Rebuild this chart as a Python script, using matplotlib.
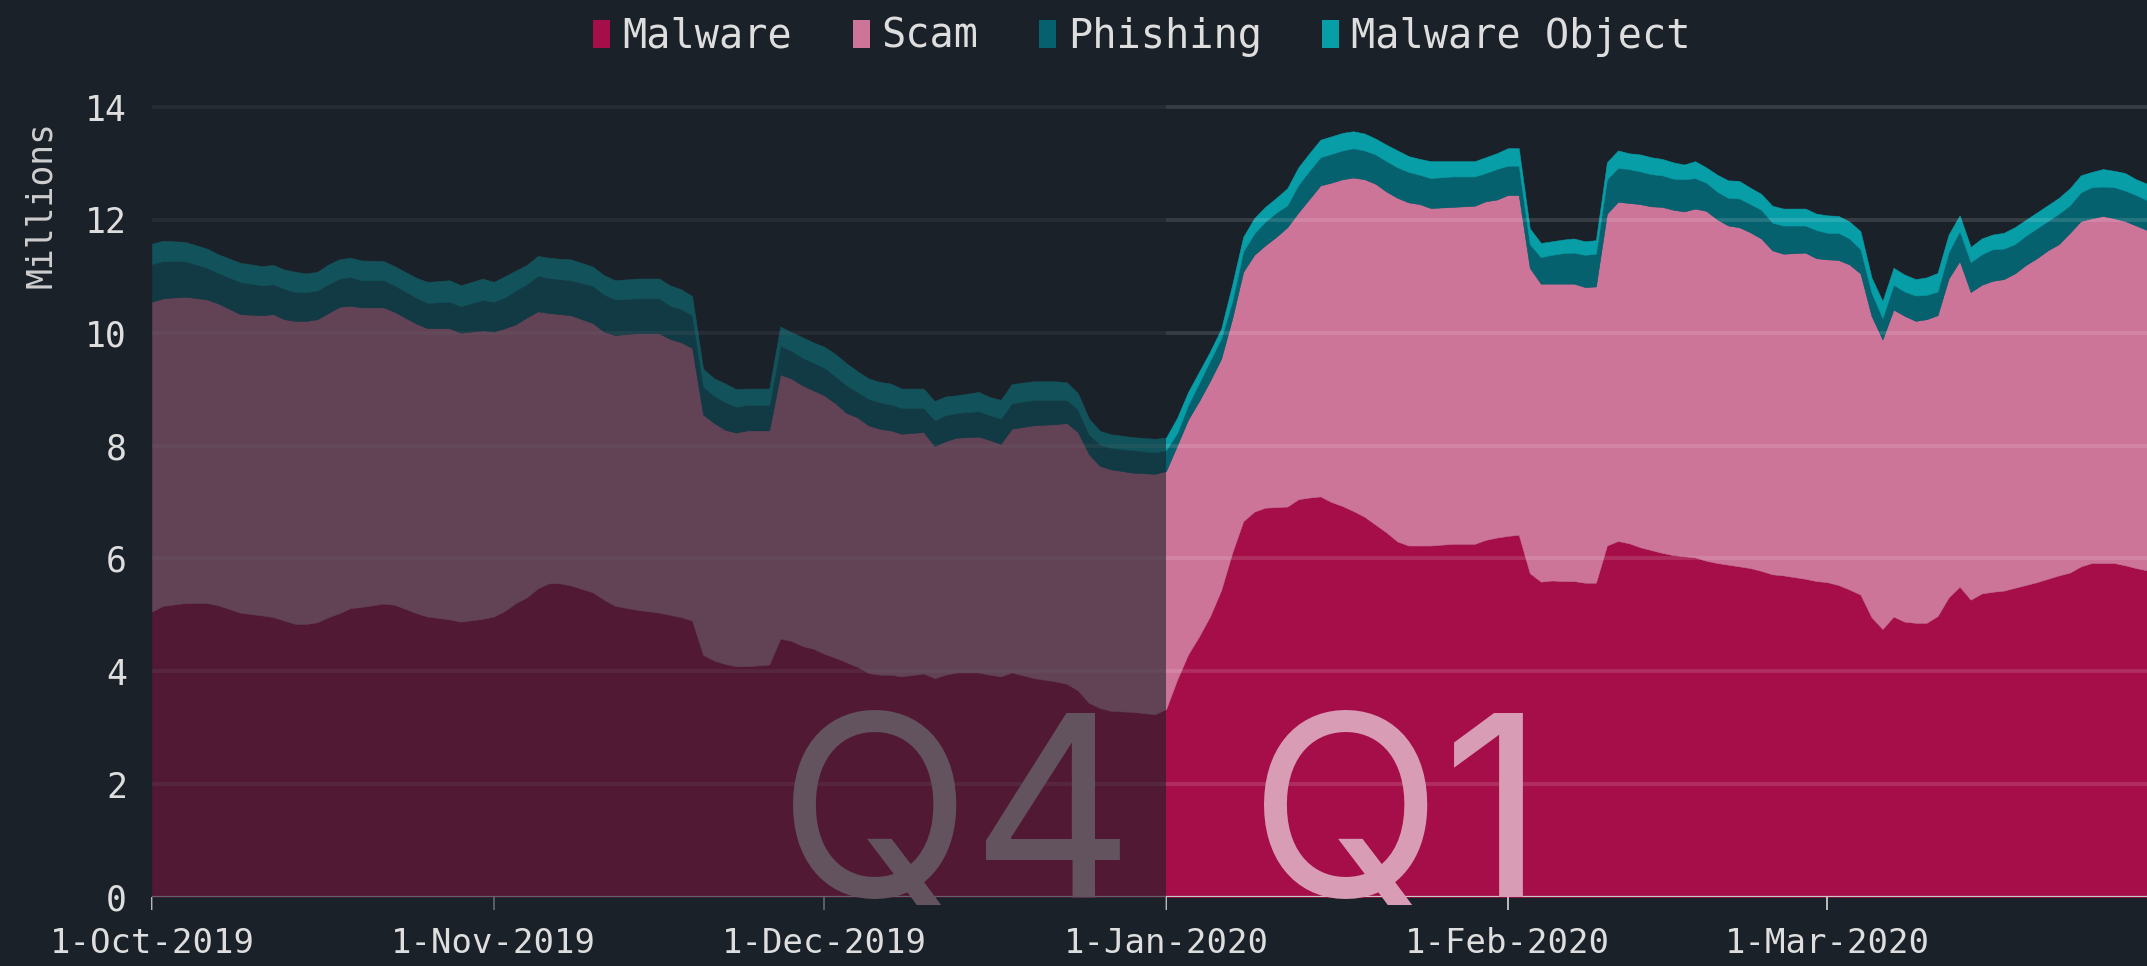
"""
Stacked daily detections (Q4 2019 vs Q1 2020) in the dark dashboard style:
Q4 is dimmed with a translucent overlay, big quarter labels sit on the baseline.
"""
import pandas as pd
import matplotlib
matplotlib.use("Agg")
import matplotlib.pyplot as plt
import matplotlib.dates as mdates
from matplotlib.patches import Rectangle, Patch
from matplotlib.transforms import Bbox, TransformedBbox

BG = "#1b2129"
TXT = "#dedede"
FONT = "DejaVu Sans Mono"
Q_FONT = ["Inter", "DejaVu Sans"]

START = pd.Timestamp("2019-10-01")
Q1_START = pd.Timestamp("2020-01-01")
END = pd.Timestamp("2020-03-30")

# days since 1-Oct-2019, values in millions (per layer, not cumulative)
day = [0, 1, 3, 5, 6, 8, 10, 11, 12, 13, 14, 15, 16, 17, 18, 19, 21, 22, 24, 25,
       27, 28, 30, 31, 32, 33, 34, 35, 36, 37, 38, 40, 41, 42, 44, 46, 47, 48, 49, 50,
       51, 52, 53, 54, 56, 57, 58, 59, 60, 61, 62, 63, 64, 65, 66, 67, 68, 70, 71, 72,
       73, 75, 76, 77, 78, 80, 82, 83, 84, 85, 86, 87, 89, 91, 92,
       93, 94, 95, 96, 97, 98, 99, 100, 101, 102, 103, 104, 105, 106, 107, 108, 109, 110,
       111, 112, 113, 114, 115, 116, 118, 120, 121, 122, 123, 124, 125, 126, 127, 128,
       129, 130, 131, 132, 133, 134, 135, 136, 137, 138, 139, 140, 141, 142, 143, 144,
       145, 146, 147, 148, 150, 151, 152, 153, 154, 155, 156, 157, 158, 159, 160, 161,
       162, 163, 164, 165, 166, 167, 168, 169, 170, 171, 172, 173, 174, 175, 176, 177,
       178, 179, 180, 181]

malware = [5.06, 5.16, 5.21, 5.21, 5.17, 5.04, 4.99, 4.96, 4.90, 4.84, 4.84, 4.87, 4.96, 5.03, 5.12, 5.14, 5.20, 5.18, 5.03, 4.97,
           4.92, 4.88, 4.93, 4.97, 5.07, 5.21, 5.31, 5.47, 5.56, 5.56, 5.52, 5.40, 5.27, 5.16, 5.09, 5.04, 5.00, 4.96, 4.90, 4.29,
           4.19, 4.13, 4.09, 4.09, 4.12, 4.58, 4.54, 4.45, 4.40, 4.31, 4.24, 4.16, 4.08, 3.97, 3.94, 3.94, 3.91, 3.96, 3.88, 3.94,
           3.98, 3.98, 3.94, 3.91, 3.98, 3.88, 3.82, 3.78, 3.66, 3.44, 3.35, 3.30, 3.28, 3.24, 3.33,
           3.85, 4.30, 4.62, 4.98, 5.44, 6.10, 6.66, 6.83, 6.90, 6.91, 6.92, 7.05, 7.08, 7.10, 7.00, 6.93, 6.84, 6.74,
           6.60, 6.46, 6.30, 6.23, 6.23, 6.23, 6.26, 6.26, 6.33, 6.37, 6.40, 6.42, 5.74, 5.59, 5.61, 5.60,
           5.60, 5.57, 5.57, 6.23, 6.31, 6.27, 6.20, 6.15, 6.10, 6.06, 6.04, 6.02, 5.96, 5.92, 5.89, 5.86,
           5.83, 5.78, 5.72, 5.70, 5.64, 5.60, 5.58, 5.53, 5.45, 5.36, 4.96, 4.75, 4.97, 4.88, 4.86, 4.86,
           4.98, 5.31, 5.50, 5.27, 5.38, 5.41, 5.43, 5.48, 5.53, 5.58, 5.64, 5.70, 5.75, 5.86, 5.92, 5.92,
           5.92, 5.88, 5.83, 5.79]

scam = [5.49, 5.45, 5.43, 5.38, 5.35, 5.29, 5.32, 5.37, 5.34, 5.37, 5.37, 5.37, 5.39, 5.43, 5.36, 5.31, 5.25, 5.19, 5.13, 5.11,
        5.16, 5.12, 5.11, 5.05, 5.01, 4.94, 4.96, 4.91, 4.79, 4.77, 4.79, 4.77, 4.75, 4.80, 4.90, 4.95, 4.89, 4.87, 4.83, 4.26,
        4.21, 4.15, 4.14, 4.18, 4.15, 4.68, 4.65, 4.62, 4.58, 4.58, 4.51, 4.42, 4.42, 4.39, 4.36, 4.33, 4.30, 4.28, 4.11, 4.14,
        4.16, 4.18, 4.16, 4.12, 4.32, 4.48, 4.56, 4.62, 4.58, 4.41, 4.29, 4.28, 4.24, 4.26, 4.22,
        4.15, 4.16, 4.17, 4.17, 4.10, 4.15, 4.42, 4.55, 4.65, 4.79, 4.95, 5.08, 5.29, 5.51, 5.66, 5.79, 5.91, 5.98,
        6.04, 6.04, 6.09, 6.08, 6.05, 5.98, 5.97, 5.99, 6.00, 5.99, 6.04, 6.02, 5.41, 5.28, 5.26, 5.27,
        5.27, 5.24, 5.25, 5.88, 6.01, 6.03, 6.08, 6.09, 6.13, 6.12, 6.11, 6.18, 6.20, 6.09, 6.01, 6.01,
        5.95, 5.89, 5.74, 5.70, 5.78, 5.72, 5.72, 5.76, 5.76, 5.69, 5.34, 5.13, 5.44, 5.42, 5.35, 5.38,
        5.33, 5.65, 5.77, 5.45, 5.47, 5.51, 5.52, 5.57, 5.67, 5.74, 5.82, 5.87, 6.02, 6.12, 6.11, 6.15,
        6.11, 6.10, 6.07, 6.03]

phishing = [0.67, 0.66, 0.63, 0.56, 0.54, 0.57, 0.53, 0.53, 0.54, 0.51, 0.51, 0.51, 0.51, 0.50, 0.51, 0.48, 0.48, 0.47, 0.46, 0.45,
            0.47, 0.47, 0.54, 0.53, 0.55, 0.60, 0.59, 0.63, 0.62, 0.62, 0.62, 0.66, 0.66, 0.63, 0.62, 0.62, 0.59, 0.59, 0.58, 0.50,
            0.48, 0.49, 0.46, 0.45, 0.45, 0.51, 0.49, 0.49, 0.49, 0.49, 0.48, 0.49, 0.45, 0.47, 0.47, 0.46, 0.46, 0.43, 0.46, 0.46,
            0.44, 0.45, 0.44, 0.45, 0.45, 0.45, 0.43, 0.41, 0.40, 0.35, 0.38, 0.38, 0.40, 0.38, 0.37,
            0.22, 0.26, 0.32, 0.36, 0.36, 0.31, 0.36, 0.38, 0.42, 0.43, 0.39, 0.49, 0.50, 0.50, 0.51, 0.51, 0.52, 0.51,
            0.52, 0.54, 0.54, 0.54, 0.52, 0.53, 0.54, 0.52, 0.50, 0.54, 0.52, 0.52, 0.42, 0.47, 0.51, 0.54,
            0.55, 0.57, 0.58, 0.61, 0.60, 0.60, 0.58, 0.57, 0.56, 0.55, 0.57, 0.54, 0.50, 0.49, 0.49, 0.51,
            0.50, 0.51, 0.49, 0.50, 0.48, 0.50, 0.47, 0.48, 0.46, 0.43, 0.41, 0.38, 0.44, 0.43, 0.45, 0.43,
            0.42, 0.47, 0.53, 0.53, 0.54, 0.56, 0.54, 0.52, 0.52, 0.53, 0.52, 0.54, 0.49, 0.51, 0.55, 0.52,
            0.55, 0.54, 0.54, 0.53]

malware_object = [0.36, 0.36, 0.34, 0.34, 0.33, 0.34, 0.34, 0.34, 0.34, 0.36, 0.33, 0.33, 0.35, 0.34, 0.34, 0.35, 0.34, 0.34, 0.35, 0.37,
                  0.38, 0.37, 0.38, 0.35, 0.37, 0.35, 0.34, 0.35, 0.36, 0.36, 0.37, 0.34, 0.34, 0.34, 0.35, 0.35, 0.36, 0.35, 0.34, 0.31,
                  0.31, 0.33, 0.31, 0.29, 0.29, 0.34, 0.33, 0.36, 0.36, 0.37, 0.39, 0.39, 0.37, 0.36, 0.36, 0.37, 0.34, 0.34, 0.34, 0.33,
                  0.31, 0.34, 0.32, 0.33, 0.34, 0.33, 0.33, 0.31, 0.29, 0.28, 0.24, 0.24, 0.23, 0.24, 0.22,
                  0.27, 0.23, 0.20, 0.16, 0.17, 0.29, 0.26, 0.27, 0.26, 0.26, 0.30, 0.31, 0.31, 0.31, 0.31, 0.31, 0.30, 0.30,
                  0.28, 0.29, 0.30, 0.28, 0.28, 0.30, 0.27, 0.27, 0.28, 0.28, 0.31, 0.31, 0.28, 0.25, 0.24, 0.24,
                  0.25, 0.24, 0.24, 0.30, 0.31, 0.28, 0.30, 0.30, 0.29, 0.29, 0.26, 0.30, 0.27, 0.30, 0.31, 0.31,
                  0.29, 0.28, 0.30, 0.30, 0.30, 0.29, 0.31, 0.30, 0.30, 0.32, 0.27, 0.30, 0.30, 0.30, 0.29, 0.31,
                  0.33, 0.31, 0.28, 0.27, 0.28, 0.26, 0.28, 0.30, 0.28, 0.28, 0.28, 0.28, 0.30, 0.30, 0.27, 0.31,
                  0.29, 0.31, 0.28, 0.29]

series_names = ["Malware", "Scam", "Phishing", "Malware Object"]
series_colors = ["#a50e48", "#cd7499", "#05616e", "#079ea8"]

tick_dates = ["2019-10-01", "2019-11-01", "2019-12-01", "2020-01-01", "2020-02-01", "2020-03-01"]
tick_labels = ["1-Oct-2019", "1-Nov-2019", "1-Dec-2019", "1-Jan-2020", "1-Feb-2020", "1-Mar-2020"]
y_ticks = [0, 2, 4, 6, 8, 10, 12, 14]

quarters = [("Q4", "2019-12-13", "#62535f"), ("Q1", "2020-01-22", "#d89cb5")]

dates = START + pd.to_timedelta(day, unit="D")

fig = plt.figure(figsize=(21.47, 9.66), dpi=100, facecolor=BG)
ax = fig.add_axes([0.0708, 0.0714, 0.9292, 0.8412])
ax.set_facecolor(BG)

polys = ax.stackplot(dates, malware, scam, phishing, malware_object,
                     colors=series_colors, zorder=1)
for p, c in zip(polys, series_colors):
    p.set_edgecolor(c)
    p.set_linewidth(0.4)

# faint gridlines drawn over the areas
for v in y_ticks[1:]:
    ax.axhline(v, color="white", alpha=0.13, lw=2.8, zorder=2)
ax.axhline(0, color="#c8c8c8", lw=1.6, zorder=2.6)

ax.set_xlim(START, END)
ax.set_ylim(0, 14.4)
for s in ax.spines.values():
    s.set_visible(False)

ax.set_xticks(pd.to_datetime(tick_dates))
ax.set_xticklabels(tick_labels, fontsize=24.5, family=FONT, color=TXT)
ax.tick_params(axis="x", direction="out", length=9.5, width=1.3,
               color="#c8c8c8", pad=12)
ax.set_yticks(y_ticks)
ax.set_yticklabels([str(v) for v in y_ticks], fontsize=25, family=FONT, color=TXT)
ax.tick_params(axis="y", length=0, pad=18)
ax.set_axisbelow(False)

# dim the Q4 part, ticks included
x0 = mdates.date2num(START)
x1 = mdates.date2num(Q1_START)
x_end = mdates.date2num(END)
ax.add_patch(Rectangle((x0, -0.27), x1 - x0, 14.67, facecolor=BG, alpha=0.6,
                       lw=0, zorder=4, clip_on=False))

# big quarter labels; the Q tail only pokes a little below the baseline
q_clip = TransformedBbox(Bbox([[x0, -0.15], [x_end, 14.4]]), ax.transData)
for label, center, color in quarters:
    t = ax.text(pd.Timestamp(center), 0, label, fontsize=182, family=Q_FONT,
                color=color, ha="center", va="baseline", zorder=5)
    t.set_clip_box(q_clip)
    t.set_clip_on(True)

fig.text(41 / 2147, 1 - 205 / 966, "Millions", rotation=90, fontsize=25,
         family=FONT, color="#cfcfcf", ha="center", va="center")

handles = [Patch(facecolor=c, edgecolor="none") for c in series_colors]
leg = fig.legend(handles, series_names, loc="center", ncol=4,
                 bbox_to_anchor=(0.532, 0.962), frameon=False,
                 prop={"family": FONT, "size": 29}, handlelength=0.42,
                 handleheight=0.7, handletextpad=0.3, columnspacing=1.5)
for t in leg.get_texts():
    t.set_color(TXT)

fig.savefig("out.png", dpi=100, facecolor=BG)
